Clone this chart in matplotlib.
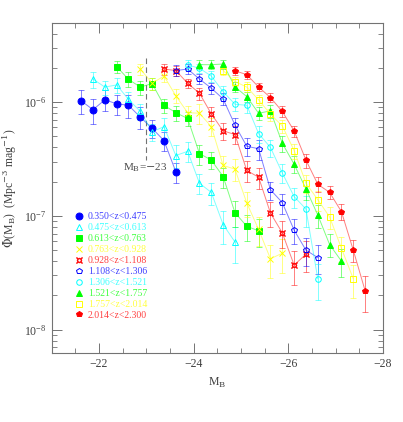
import numpy as np
import matplotlib.pyplot as plt
from matplotlib.lines import Line2D
from matplotlib.ticker import LogLocator, MultipleLocator, NullFormatter, FixedLocator

plt.rcParams['font.family'] = ['Liberation Serif', 'DejaVu Serif']
plt.rcParams['mathtext.fontset'] = 'dejavuserif'

# absolute magnitude bins (centres of 0.25 mag bins)
mag_bins = np.arange(-21.625, -27.7, -0.25)

# redshift slices
labels = ['0.350<z<0.475', '0.475<z<0.613', '0.613<z<0.763', '0.763<z<0.928',
          '0.928<z<1.108', '1.108<z<1.306', '1.306<z<1.521', '1.521<z<1.757',
          '1.757<z<2.014', '2.014<z<2.300']
colors = ['#0000ff', '#00ffff', '#00ff00', '#ffff00', '#ff0000',
          '#0000ff', '#00ffff', '#00ff00', '#ffff00', '#ff0000']
markers = ['o', '^', 's', 'x', '$¤$', 'p', 'o', '^', 's', 'p']
filled = [True, False, True, True, True, False, False, True, False, True]

# first magnitude bin index of each slice
first_bin = [0, 1, 3, 5, 7, 8, 9, 10, 12, 13]

# luminosity function, units of 1e-6 Mpc^-3 mag^-1
phi_z1 = [1.03, 0.86, 1.05, 0.97, 0.94, 0.74, 0.59, 0.46, 0.245]
phi_z2 = [1.60, 1.36, 1.42, 1.06, 0.83, 0.55, 0.61, 0.34, 0.37, 0.194, 0.161, 0.084, 0.059]
phi_z3 = [2.06, 1.59, 1.36, 1.46, 0.94, 0.81, 0.72, 0.354, 0.31, 0.222, 0.107, 0.081, 0.074]
phi_z4 = [1.96, 1.47, 1.70, 1.14, 0.81, 0.80, 0.61, 0.278, 0.258, 0.130, 0.076, 0.042, 0.047]
phi_z5 = [1.96, 1.90, 1.47, 1.20, 0.79, 0.56, 0.52, 0.251, 0.219, 0.106, 0.071, 0.037, 0.046]
phi_z6 = [1.90, 1.96, 1.60, 1.33, 1.07, 0.63, 0.41, 0.39, 0.170, 0.131, 0.075, 0.050, 0.043]
phi_z7 = [2.13, 1.99, 1.70, 1.24, 0.96, 0.94, 0.53, 0.40, 0.239, 0.148, 0.115, 0.028]
phi_z8 = [2.14, 2.14, 2.17, 1.37, 1.12, 0.80, 0.84, 0.436, 0.285, 0.173, 0.102, 0.056, 0.040]
phi_z9 = [1.90, 1.52, 1.36, 1.05, 0.785, 0.62, 0.376, 0.194, 0.139, 0.098, 0.052, 0.028]
phi_z10 = [1.89, 1.75, 1.36, 1.10, 0.83, 0.56, 0.31, 0.19, 0.161, 0.109, 0.050, 0.022]

# fractional errors
err_z1 = [0.24, 0.25, 0.21, 0.20, 0.22, 0.22, 0.18, 0.19, 0.20]
err_z2 = [0.16, 0.14, 0.15, 0.15, 0.16, 0.17, 0.20, 0.23, 0.20, 0.20, 0.22, 0.32, 0.35]
err_z3 = [0.13, 0.15, 0.14, 0.12, 0.14, 0.15, 0.15, 0.20, 0.17, 0.20, 0.26, 0.25, 0.28]
err_z4 = [0.11, 0.12, 0.12, 0.14, 0.15, 0.20, 0.18, 0.22, 0.22, 0.25, 0.28, 0.32, 0.33]
err_z5 = [0.11, 0.10, 0.10, 0.12, 0.14, 0.17, 0.18, 0.20, 0.21, 0.25, 0.26, 0.33, 0.30]
err_z6 = [0.11, 0.10, 0.10, 0.11, 0.12, 0.15, 0.18, 0.20, 0.18, 0.20, 0.25, 0.27, 0.28]
err_z7 = [0.10, 0.10, 0.11, 0.13, 0.13, 0.14, 0.17, 0.17, 0.19, 0.20, 0.30, 0.35]
err_z8 = [0.09, 0.09, 0.09, 0.10, 0.10, 0.13, 0.13, 0.16, 0.17, 0.20, 0.23, 0.23, 0.28]
err_z9 = [0.08, 0.09, 0.10, 0.10, 0.12, 0.13, 0.15, 0.18, 0.20, 0.22, 0.25, 0.32]
err_z10 = [0.09, 0.08, 0.08, 0.09, 0.11, 0.11, 0.14, 0.15, 0.13, 0.16, 0.22, 0.35]

phis = [phi_z1, phi_z2, phi_z3, phi_z4, phi_z5, phi_z6, phi_z7, phi_z8, phi_z9, phi_z10]
errs = [err_z1, err_z2, err_z3, err_z4, err_z5, err_z6, err_z7, err_z8, err_z9, err_z10]

fig = plt.figure(figsize=(4.03, 4.22), dpi=100)
ax = fig.add_axes([0.128, 0.163, 0.822, 0.783])

handles = []
for i in range(10):
    phi = np.array(phis[i]) * 1e-6
    err = np.array(errs[i]) * phi
    mag = mag_bins[first_bin[i]:first_bin[i] + len(phi)]
    c = colors[i]
    ax.errorbar(mag, phi, yerr=err, color=c, alpha=0.5, lw=0.7,
                elinewidth=0.7, capsize=2.5, capthick=0.7, zorder=2)
    fc = c if filled[i] else 'none'
    ms = 5 if i == 0 else 4
    if i == 4:
        ms = 4.5
    mew = 0.4 if i == 4 else 0.7
    ax.plot(mag, phi, ls='none', marker=markers[i], ms=ms, mfc=fc, mec=c,
            mew=mew, zorder=3)
    handles.append(Line2D([], [], ls='none', marker=markers[i], ms=ms,
                          mfc=fc, mec=c, mew=mew))

# M_B = -23 marker
ax.plot([-23, -23], [2.45e-6, 3.1e-7], ls=(0, (5, 3)), color='0.45', lw=0.8)
ax.text(-22.97, 2.65e-7, r'M$_{\rm B}$=$-$23', ha='center', va='center',
        fontsize=8, color='0.3')

leg = ax.legend(handles, labels, loc='upper left', bbox_to_anchor=(0.06, 0.438),
                frameon=False, fontsize=7, handlelength=0.8, handletextpad=0.5,
                labelspacing=0.2, borderaxespad=0)
for t, c in zip(leg.get_texts(), colors):
    t.set_color(c)
    t.set_alpha(0.75)

ax.set_yscale('log')
ax.set_xlim(-21, -28)
ax.set_ylim(6.2e-9, 5e-6)
ax.xaxis.set_major_locator(FixedLocator([-22, -24, -26, -28]))
ax.xaxis.set_minor_locator(MultipleLocator(0.5))
ax.yaxis.set_major_locator(LogLocator(base=10))
ax.yaxis.set_minor_locator(LogLocator(base=10, subs=np.arange(2, 10)))
ax.yaxis.set_minor_formatter(NullFormatter())
ax.tick_params(which='both', direction='in', top=True, right=True,
               color='0.45', labelsize=8.5, labelcolor='0.25')
ax.tick_params(which='major', length=7, width=0.7)
ax.tick_params(which='minor', length=3.5, width=0.6)
for s in ax.spines.values():
    s.set_color('0.45')
    s.set_linewidth(0.8)

ax.set_xlabel(r'M$_{\rm B}$', fontsize=8.5, color='0.25')
ax.set_ylabel(r'$\Phi$(M$_{\rm B}$)  (Mpc$^{-3}$ mag$^{-1}$)', fontsize=8.5,
              color='0.25')

fig.savefig('out.png', dpi=100)
